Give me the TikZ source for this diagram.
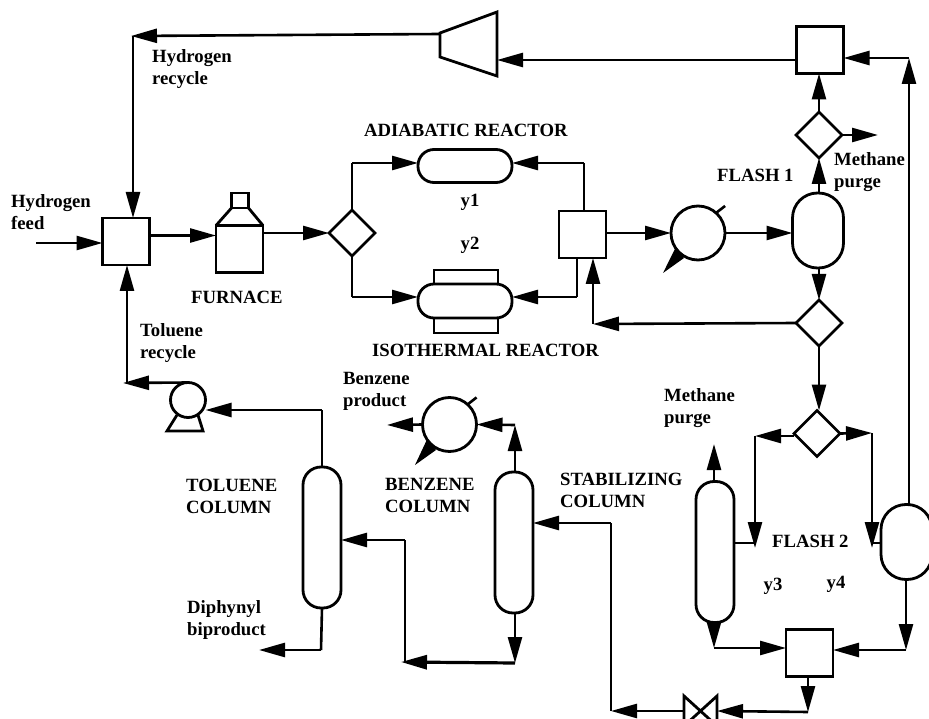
\documentclass[tikz,border=0pt]{standalone}
\usepackage{fontspec}
\setmainfont{Liberation Serif}
\usetikzlibrary{arrows.meta,shapes.geometric,shapes.misc,calc}
\tikzset{
  flow/.style={line width=2.6pt,-{Triangle[length=26pt,width=14pt,sep=0pt]},line join=miter},
  pipe/.style={line width=2.6pt},
  unit/.style={draw,line width=2.8pt,inner sep=0pt,outer sep=0pt},
  boxunit/.style={unit,rectangle,minimum width=47pt,minimum height=47pt},
  splitter/.style={unit,diamond,minimum width=46pt,minimum height=46pt},
  exch/.style={unit,circle,minimum size=54pt},
  column/.style={unit,rectangle,rounded corners=18pt,minimum width=38pt,minimum height=141pt},
  flash/.style={unit,rectangle,rounded corners=25pt,minimum width=51pt,minimum height=75pt},
  reactor/.style={unit,rectangle,rounded corners=16pt,minimum width=94pt,minimum height=33pt},
  lab/.style={font=\fontsize{18.7}{22}\selectfont\bfseries,inner sep=0pt,align=left,anchor=west}
}
\begin{document}
\begin{tikzpicture}[x=1pt,y=-1pt]
\path[use as bounding box,clip] (0,0) rectangle (929,719);
% jackets first
\node[unit,rectangle,minimum width=64pt,minimum height=63pt] (jacket) at (466,301.5) {};
% units
\node[boxunit] (mix) at (126,241.5) {};
\node[boxunit] (furn) at (239.5,249) {};
\node[unit,rectangle,minimum width=17pt,minimum height=15pt] (furntop) at (240,200.5) {};
\node[splitter] (sp1) at (352,233) {};
\node[reactor] (adi) at (465,166) {};
\node[reactor,fill=white,minimum height=34pt] (iso) at (465,301) {};
\node[boxunit] (box2) at (582.5,234.5) {};
\node[exch] (hx1) at (698,233) {};
\node[flash] (fl1) at (818,230.5) {};
\node[splitter] (sp2) at (819,135) {};
\node[boxunit] (box3) at (820,50) {};
\node[splitter] (sp3) at (819,323) {};
\node[splitter] (sp4) at (817,433.5) {};
\node[column] (stab) at (715,552) {};
\node[flash] (fl2) at (906.5,542) {};
\node[boxunit] (box4) at (809.5,653) {};
\node[column] (benz) at (514,542.5) {};
\node[exch] (hx2) at (449.5,424.5) {};
\node[column] (tol) at (322,537.5) {};
\node[unit,circle,minimum size=35pt] (pump) at (188,400) {};
% valve
\coordinate (vR) at (717,711); \coordinate (vL) at (684,711);
\draw[unit,line join=miter] (684,696) -- (717,726) -- (717,696) -- (684,726) -- cycle;
% compressor
\coordinate (compOut) at (440,34); \coordinate (compIn) at (497,60);
\draw[unit,line join=miter] (440,33) -- (497,12) -- (497,76) -- (440,57) -- cycle;
% furnace roof
\draw[unit] (furn.north west) -- (furntop.south west);
\draw[unit] (furn.north east) -- (furntop.south east);
% exchanger details
\draw[pipe] (hx1.48) -- ++(9,-7);
\fill (hx1.222) ++(-2,-4) -- (663,273) -- (684,258) -- cycle;
\draw[pipe] (hx2.48) -- ++(9,-7);
\fill (hx2.222) ++(-2,-4) -- (415,465) -- (436,450) -- cycle;
% pump stand
\draw[unit,line join=miter] (177,415) -- (167,431) -- (203,431) -- (198,415);
% coordinates of bends
\coordinate (hrBend) at (133,36);
\coordinate (adiBend) at (352,163);
\coordinate (isoBend) at (352,297);
\coordinate (adiBend2) at (584,163);
\coordinate (isoBend2) at (577,297);
\coordinate (recBend) at (593,324);
\coordinate (purge1) at (878,135);
\coordinate (vapBend) at (909,58);
\coordinate (l1) at (755,436);
\coordinate (l1e) at (755,548);
\coordinate (r1) at (872,433);
\coordinate (r1e) at (872,548);
\coordinate (feed) at (36,243);
\coordinate (purge2) at (714,444);
\coordinate (stabBot) at (714,648);
\coordinate (fl2Bot) at (906,650);
\coordinate (box4Bot) at (808,712);
\coordinate (valveBend) at (611,711);
\coordinate (stabIn) at (611,523);
\coordinate (benzTop) at (515,425);
\coordinate (bzProd) at (387,425);
\coordinate (benzBot) at (515,663);
\coordinate (tolIn) at (405,662);
\coordinate (tolIn2) at (405,540);
\coordinate (tolTop) at (322,410);
\coordinate (pumpOut) at (127,382);
\coordinate (tolBot) at (321,650);
\coordinate (diph) at (259,650);
% connectors
\draw[flow] (compOut) -- (131,36);
\draw[flow] (hrBend) -- (mix.north -| hrBend);
\draw[flow] (feed) -- (mix.west |- feed);
\draw[flow] ([yshift=6pt]mix.east) -- (furn.west |- 0,235.5);
\draw[flow] (furn.east |- sp1) -- (sp1.west);
\draw[pipe] (sp1.north) -- (adiBend);
\draw[flow] (adiBend) -- (adi.west |- adiBend);
\draw[pipe] (sp1.south) -- (isoBend);
\draw[flow] (isoBend) -- (iso.west |- isoBend);
\draw[pipe] (box2.north -| adiBend2) -- (adiBend2);
\draw[flow] (adiBend2) -- (adi.east |- adiBend2);
\draw[pipe] (box2.south -| isoBend2) -- (isoBend2);
\draw[flow] (isoBend2) -- (iso.east |- isoBend2);
\draw[flow] (box2.east |- hx1) -- (hx1.west);
\draw[flow] (hx1.east) -- (fl1.west |- hx1);
\draw[flow] (fl1.north -| sp2) -- (sp2.south);
\draw[flow] (sp2.east) -- (purge1);
\draw[flow] (sp2.north) -- (box3.south -| sp2);
\draw[flow] (box3.west |- compIn) -- (compIn);
\draw[flow] (fl2.north -| vapBend) -- (vapBend);
\draw[flow] (vapBend) -- (box3.east |- vapBend);
\draw[flow] (fl1.south -| sp3) -- (sp3.north);
\draw[flow] (sp3.west) -- (recBend);
\draw[flow] (recBend) -- (box2.south -| recBend);
\draw[flow] (sp3.south) -- (sp4.north -| sp3);
\draw[flow] (sp4.west |- l1) -- (l1);
\draw[flow] (l1) -- (l1e);
\draw[pipe] (stab.east |- 0,543) -- (l1e |- 0,543);
\draw[flow] (sp4.east) -- (r1);
\draw[flow] (r1) -- (r1e);
\draw[pipe] (r1e |- 0,543) -- (fl2.west |- 0,543);
\draw[flow] (stab.north -| purge2) -- (purge2);
\draw[flow] (stab.south -| stabBot) -- (stabBot);
\draw[flow] (stabBot) -- (box4.west |- stabBot);
\draw[flow] (fl2.south -| fl2Bot) -- (fl2Bot);
\draw[flow] (fl2Bot) -- (box4.east |- fl2Bot);
\draw[flow] (box4.south -| box4Bot) -- (box4Bot);
\draw[flow] (box4Bot) -- (vR);
\draw[flow] (vL) -- (valveBend);
\draw[pipe] (valveBend) -- (stabIn);
\draw[flow] (stabIn) -- (benz.east |- stabIn);
\draw[flow] (benz.north -| benzTop) -- (benzTop);
\draw[flow] (benzTop) -- (hx2.east);
\draw[flow] (hx2.west) -- (bzProd);
\draw[flow] (benz.south -| benzBot) -- (benzBot);
\draw[flow,line width=3.2pt] (benzBot) -- (401,662);
\draw[pipe] (tolIn) -- (tolIn2);
\draw[flow] (tolIn2) -- (tol.east |- tolIn2);
\draw[pipe] (tol.north) -- (tolTop);
\draw[flow] (tolTop) -- (pump.east |- tolTop);
\draw[flow] (pump.north) -- (123,383);
\draw[flow] (pumpOut) -- (mix.south -| pumpOut);
\draw[pipe] (tol.south) -- (tolBot);
\draw[flow] (tolBot) -- (diph);
% labels
\node[lab] (t1) at (152,69) {Hydrogen\\recycle};
\node[lab] (t2) at (11,212) {Hydrogen\\feed};
\node[lab] (t3) at (191,297) {FURNACE};
\node[lab] (t4) at (364,130) {ADIABATIC REACTOR};
\node[lab,anchor=center] (t5) at (470,202) {y1};
\node[lab,anchor=center] (t6) at (470,245) {y2};
\node[lab] (t7) at (372,350) {ISOTHERMAL REACTOR};
\node[lab] (t8) at (140,343) {Toluene\\recycle};
\node[lab] (t9) at (343,391) {Benzene\\product};
\node[lab] (t10) at (186,496) {TOLUENE\\COLUMN};
\node[lab] (t11) at (187,620) {Diphynyl\\biproduct};
\node[lab] (t12) at (385,495) {BENZENE\\COLUMN};
\node[lab] (t13) at (560,490) {STABILIZING\\COLUMN};
\node[lab] (t14) at (664,408) {Methane\\purge};
\node[lab] (t15) at (834,172) {Methane\\purge};
\node[lab] (t16) at (717,175) {FLASH 1};
\node[lab] (t17) at (772,541) {FLASH 2};
\node[lab,anchor=center] (t18) at (773,586) {y3};
\node[lab,anchor=center] (t19) at (836,584) {y4};
\end{tikzpicture}
\end{document}
